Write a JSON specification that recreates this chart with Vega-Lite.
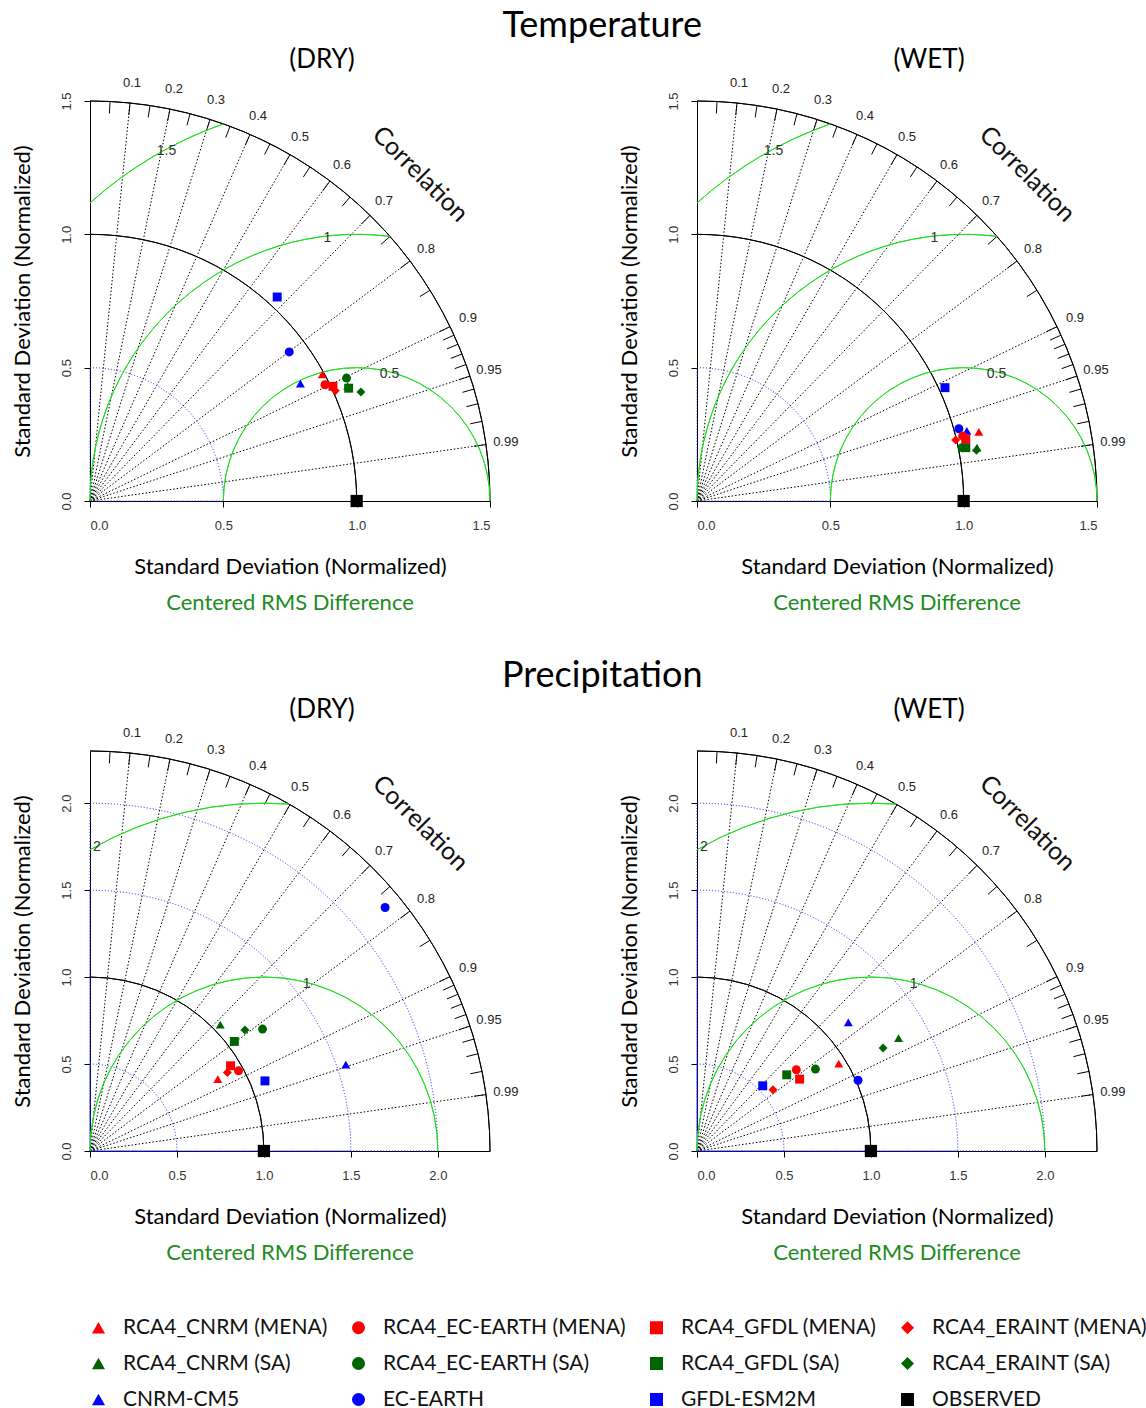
{
"$schema": "https://vega.github.io/schema/vega-lite/v6.json",
"padding": {"left": 11, "top": 8, "right": 5, "bottom": 0},
"datasets": {
"raysT": [{"x":0,"y":0,"x2":0.15,"y2":1.49249},{"x":0,"y":0,"x2":0.3,"y2":1.4697},{"x":0,"y":0,"x2":0.45,"y2":1.43091},{"x":0,"y":0,"x2":0.6,"y2":1.37478},{"x":0,"y":0,"x2":0.75,"y2":1.29904},{"x":0,"y":0,"x2":0.9,"y2":1.2},{"x":0,"y":0,"x2":1.05,"y2":1.07121},{"x":0,"y":0,"x2":1.2,"y2":0.9},{"x":0,"y":0,"x2":1.35,"y2":0.65384},{"x":0,"y":0,"x2":1.425,"y2":0.46838},{"x":0,"y":0,"x2":1.485,"y2":0.21161}],
"raysP": [{"x":0,"y":0,"x2":0.23,"y2":2.28848},{"x":0,"y":0,"x2":0.46,"y2":2.25354},{"x":0,"y":0,"x2":0.69,"y2":2.19406},{"x":0,"y":0,"x2":0.92,"y2":2.108},{"x":0,"y":0,"x2":1.15,"y2":1.99187},{"x":0,"y":0,"x2":1.38,"y2":1.84},{"x":0,"y":0,"x2":1.61,"y2":1.64252},{"x":0,"y":0,"x2":1.84,"y2":1.38},{"x":0,"y":0,"x2":2.07,"y2":1.00255},{"x":0,"y":0,"x2":2.185,"y2":0.71818},{"x":0,"y":0,"x2":2.277,"y2":0.32446}],
"ticksT": [{"x":0.07275,"y":1.45318,"x2":0.075,"y2":1.49813},{"x":0.1455,"y":1.44771,"x2":0.15,"y2":1.49249},{"x":0.21825,"y":1.43854,"x2":0.225,"y2":1.48304},{"x":0.291,"y":1.42561,"x2":0.3,"y2":1.4697},{"x":0.36375,"y":1.4088,"x2":0.375,"y2":1.45238},{"x":0.4365,"y":1.38798,"x2":0.45,"y2":1.43091},{"x":0.50925,"y":1.36297,"x2":0.525,"y2":1.40513},{"x":0.582,"y":1.33354,"x2":0.6,"y2":1.37478},{"x":0.65475,"y":1.29936,"x2":0.675,"y2":1.33955},{"x":0.7275,"y":1.26007,"x2":0.75,"y2":1.29904},{"x":0.80025,"y":1.21516,"x2":0.825,"y2":1.25274},{"x":0.873,"y":1.164,"x2":0.9,"y2":1.2},{"x":0.94575,"y":1.1057,"x2":0.975,"y2":1.1399},{"x":1.0185,"y":1.03907,"x2":1.05,"y2":1.07121},{"x":1.09125,"y":0.9624,"x2":1.125,"y2":0.99216},{"x":1.164,"y":0.873,"x2":1.2,"y2":0.9},{"x":1.23675,"y":0.76646,"x2":1.275,"y2":0.79017},{"x":1.3095,"y":0.63422,"x2":1.35,"y2":0.65384},{"x":1.32405,"y":0.60326,"x2":1.365,"y2":0.62192},{"x":1.3386,"y":0.57024,"x2":1.38,"y2":0.58788},{"x":1.35315,"y":0.5348,"x2":1.395,"y2":0.55134},{"x":1.3677,"y":0.4964,"x2":1.41,"y2":0.51176},{"x":1.38225,"y":0.45432,"x2":1.425,"y2":0.46838},{"x":1.3968,"y":0.4074,"x2":1.44,"y2":0.42},{"x":1.41135,"y":0.35371,"x2":1.455,"y2":0.36465},{"x":1.4259,"y":0.28955,"x2":1.47,"y2":0.2985},{"x":1.44045,"y":0.20526,"x2":1.485,"y2":0.21161}],
"ticksP": [{"x":0.11155,"y":2.22821,"x2":0.115,"y2":2.29713},{"x":0.2231,"y":2.21982,"x2":0.23,"y2":2.28848},{"x":0.33465,"y":2.20577,"x2":0.345,"y2":2.27399},{"x":0.4462,"y":2.18593,"x2":0.46,"y2":2.25354},{"x":0.55775,"y":2.16017,"x2":0.575,"y2":2.22698},{"x":0.6693,"y":2.12824,"x2":0.69,"y2":2.19406},{"x":0.78085,"y":2.08989,"x2":0.805,"y2":2.15453},{"x":0.8924,"y":2.04476,"x2":0.92,"y2":2.108},{"x":1.00395,"y":1.99235,"x2":1.035,"y2":2.05397},{"x":1.1155,"y":1.93211,"x2":1.15,"y2":1.99187},{"x":1.22705,"y":1.86324,"x2":1.265,"y2":1.92087},{"x":1.3386,"y":1.7848,"x2":1.38,"y2":1.84},{"x":1.45015,"y":1.6954,"x2":1.495,"y2":1.74784},{"x":1.5617,"y":1.59325,"x2":1.61,"y2":1.64252},{"x":1.67325,"y":1.47567,"x2":1.725,"y2":1.52131},{"x":1.7848,"y":1.3386,"x2":1.84,"y2":1.38},{"x":1.89635,"y":1.17525,"x2":1.955,"y2":1.21159},{"x":2.0079,"y":0.97247,"x2":2.07,"y2":1.00255},{"x":2.03021,"y":0.92499,"x2":2.093,"y2":0.9536},{"x":2.05252,"y":0.87437,"x2":2.116,"y2":0.90142},{"x":2.07483,"y":0.82003,"x2":2.139,"y2":0.84539},{"x":2.09714,"y":0.76115,"x2":2.162,"y2":0.78469},{"x":2.11945,"y":0.69663,"x2":2.185,"y2":0.71818},{"x":2.14176,"y":0.62468,"x2":2.208,"y2":0.644},{"x":2.16407,"y":0.54236,"x2":2.231,"y2":0.55913},{"x":2.18638,"y":0.44397,"x2":2.254,"y2":0.4577},{"x":2.20869,"y":0.31473,"x2":2.277,"y2":0.32446}],
"clabsT": [{"label":"0.1","x":0.1575,"y":1.56711},{"label":"0.2","x":0.315,"y":1.54319},{"label":"0.3","x":0.4725,"y":1.50246},{"label":"0.4","x":0.63,"y":1.44352},{"label":"0.5","x":0.7875,"y":1.364},{"label":"0.6","x":0.945,"y":1.26},{"label":"0.7","x":1.1025,"y":1.12477},{"label":"0.8","x":1.26,"y":0.945},{"label":"0.9","x":1.4175,"y":0.68653},{"label":"0.95","x":1.49625,"y":0.49179},{"label":"0.99","x":1.55925,"y":0.22219}],
"clabsP": [{"label":"0.1","x":0.2415,"y":2.4029},{"label":"0.2","x":0.483,"y":2.36622},{"label":"0.3","x":0.7245,"y":2.30377},{"label":"0.4","x":0.966,"y":2.2134},{"label":"0.5","x":1.2075,"y":2.09146},{"label":"0.6","x":1.449,"y":1.932},{"label":"0.7","x":1.6905,"y":1.72465},{"label":"0.8","x":1.932,"y":1.449},{"label":"0.9","x":2.1735,"y":1.05267},{"label":"0.95","x":2.29425,"y":0.75408},{"label":"0.99","x":2.39085,"y":0.34068}],
"annT": [{"label":"Correlation","x":1.238,"y":1.226}],
"annP": [{"label":"Correlation","x":1.9,"y":1.885}],
"rtT": [{"label":"Centered RMS Difference","x":0.75,"y":-0.3825}],
"rtP": [{"label":"Centered RMS Difference","x":1.15,"y":-0.5865}],
"blackT": [{"x":0,"y":0,"r":1.5,"t1":0,"t2":1.5708},{"x":0,"y":0,"r":1,"t1":0,"t2":1.5708}],
"blueT": [{"x":0,"y":0,"r":0.5,"t1":0,"t2":1.5708}],
"greenT": [{"x":1,"y":0,"r":0.5,"t1":-1.5708,"t2":1.5708},{"x":1,"y":0,"r":1,"t1":-1.5708,"t2":0.1253},{"x":1,"y":0,"r":1.5,"t1":-0.7297,"t2":-0.3398}],
"rmsT": [{"label":"0.5","x":1.123,"y":0.476},{"label":"1","x":0.89,"y":0.986},{"label":"1.5","x":0.287,"y":1.312}],
"blackP": [{"x":0,"y":0,"r":2.3,"t1":0,"t2":1.5708},{"x":0,"y":0,"r":1,"t1":0,"t2":1.5708}],
"blueP": [{"x":0,"y":0,"r":0.5,"t1":0,"t2":1.5708},{"x":0,"y":0,"r":1.5,"t1":0,"t2":1.5708},{"x":0,"y":0,"r":2,"t1":0,"t2":1.5708}],
"greenP": [{"x":1,"y":0,"r":1,"t1":-1.5708,"t2":1.5708},{"x":1,"y":0,"r":2,"t1":-0.5236,"t2":0.0726}],
"rmsP": [{"label":"1","x":1.245,"y":0.963},{"label":"2","x":0.039,"y":1.746}],
"pts": [
{"panel":"TD","series":"CNRM-CM5","x":0.789,"y":0.44},
{"panel":"TD","series":"EC-EARTH","x":0.747,"y":0.559},
{"panel":"TD","series":"GFDL-ESM2M","x":0.702,"y":0.765},
{"panel":"TD","series":"RCA4_CNRM (SA)","x":0.966,"y":0.432},
{"panel":"TD","series":"RCA4_EC-EARTH (SA)","x":0.962,"y":0.461},
{"panel":"TD","series":"RCA4_GFDL (SA)","x":0.97,"y":0.423},
{"panel":"TD","series":"RCA4_ERAINT (SA)","x":1.016,"y":0.409},
{"panel":"TD","series":"RCA4_CNRM (MENA)","x":0.871,"y":0.475},
{"panel":"TD","series":"RCA4_EC-EARTH (MENA)","x":0.881,"y":0.436},
{"panel":"TD","series":"RCA4_GFDL (MENA)","x":0.911,"y":0.43},
{"panel":"TD","series":"RCA4_ERAINT (MENA)","x":0.92,"y":0.413},
{"panel":"TD","series":"OBSERVED","x":1.0,"y":0},
{"panel":"TW","series":"CNRM-CM5","x":1.012,"y":0.263},
{"panel":"TW","series":"EC-EARTH","x":0.982,"y":0.271},
{"panel":"TW","series":"GFDL-ESM2M","x":0.93,"y":0.425},
{"panel":"TW","series":"RCA4_CNRM (SA)","x":1.05,"y":0.2},
{"panel":"TW","series":"RCA4_EC-EARTH (SA)","x":0.994,"y":0.2},
{"panel":"TW","series":"RCA4_GFDL (SA)","x":1.008,"y":0.2},
{"panel":"TW","series":"RCA4_ERAINT (SA)","x":1.048,"y":0.19},
{"panel":"TW","series":"RCA4_CNRM (MENA)","x":1.057,"y":0.259},
{"panel":"TW","series":"RCA4_EC-EARTH (MENA)","x":0.996,"y":0.244},
{"panel":"TW","series":"RCA4_GFDL (MENA)","x":1.008,"y":0.232},
{"panel":"TW","series":"RCA4_ERAINT (MENA)","x":0.97,"y":0.229},
{"panel":"TW","series":"OBSERVED","x":1.0,"y":0},
{"panel":"PD","series":"CNRM-CM5","x":1.471,"y":0.496},
{"panel":"PD","series":"EC-EARTH","x":1.697,"y":1.4},
{"panel":"PD","series":"GFDL-ESM2M","x":1.006,"y":0.403},
{"panel":"PD","series":"RCA4_CNRM (SA)","x":0.749,"y":0.726},
{"panel":"PD","series":"RCA4_EC-EARTH (SA)","x":0.992,"y":0.701},
{"panel":"PD","series":"RCA4_GFDL (SA)","x":0.83,"y":0.63},
{"panel":"PD","series":"RCA4_ERAINT (SA)","x":0.891,"y":0.696},
{"panel":"PD","series":"RCA4_CNRM (MENA)","x":0.735,"y":0.413},
{"panel":"PD","series":"RCA4_EC-EARTH (MENA)","x":0.854,"y":0.461},
{"panel":"PD","series":"RCA4_GFDL (MENA)","x":0.808,"y":0.49},
{"panel":"PD","series":"RCA4_ERAINT (MENA)","x":0.79,"y":0.451},
{"panel":"PD","series":"OBSERVED","x":1.0,"y":0},
{"panel":"PW","series":"CNRM-CM5","x":0.87,"y":0.74},
{"panel":"PW","series":"EC-EARTH","x":0.926,"y":0.407},
{"panel":"PW","series":"GFDL-ESM2M","x":0.378,"y":0.375},
{"panel":"PW","series":"RCA4_CNRM (SA)","x":1.159,"y":0.649},
{"panel":"PW","series":"RCA4_EC-EARTH (SA)","x":0.681,"y":0.471},
{"panel":"PW","series":"RCA4_GFDL (SA)","x":0.516,"y":0.438},
{"panel":"PW","series":"RCA4_ERAINT (SA)","x":1.07,"y":0.592},
{"panel":"PW","series":"RCA4_CNRM (MENA)","x":0.815,"y":0.503},
{"panel":"PW","series":"RCA4_EC-EARTH (MENA)","x":0.571,"y":0.467},
{"panel":"PW","series":"RCA4_GFDL (MENA)","x":0.59,"y":0.413},
{"panel":"PW","series":"RCA4_ERAINT (MENA)","x":0.437,"y":0.352},
{"panel":"PW","series":"OBSERVED","x":1.0,"y":0}
]
},
"vconcat": [
{
"title": {"text": "Temperature", "fontSize": 36, "anchor": "middle", "offset": 2, "dx": 34},
"spacing": 99,
"hconcat": [
{
"width": 400, "height": 400,
"title": {"text": "(DRY)", "frame": "group", "dx": 32, "offset": 4},
"encoding": {
"x": {"field": "x", "type": "quantitative", "stack": null, "scale": {"domain": [0, 1.5], "nice": false, "zero": true}, "axis": {"values": [0, 0.5, 1, 1.5], "format": ".1f", "title": "Standard Deviation (Normalized)"}},
"y": {"field": "y", "type": "quantitative", "stack": null, "scale": {"domain": [0, 1.5], "nice": false, "zero": true}, "axis": {"values": [0, 0.5, 1, 1.5], "format": ".1f", "title": "Standard Deviation (Normalized)"}}
},
"layer": [
{"data": {"name": "raysT"}, "mark": {"type": "rule", "color": "#000000", "strokeWidth": 1, "strokeDash": [1.5, 2]}, "encoding": {"x2": {"field": "x2"}, "y2": {"field": "y2"}}},
{"data": {"name": "ticksT"}, "mark": {"type": "rule", "color": "#000000", "strokeWidth": 1}, "encoding": {"x2": {"field": "x2"}, "y2": {"field": "y2"}}},
{"data": {"name": "blueT"}, "mark": {"type": "arc", "filled": false, "color": "#2020ff", "strokeWidth": 1, "strokeDash": [1, 2]}, "encoding": {"radius": {"field": "r", "type": "quantitative", "stack": null, "scale": {"type": "linear", "domain": [0, 1.5], "range": [0, 400], "zero": true, "nice": false}}, "theta": {"field": "t1", "type": "quantitative", "stack": null, "scale": {"type": "linear", "domain": [-3.1416, 3.1416], "range": [-3.1416, 3.1416], "zero": false, "nice": false}}, "theta2": {"field": "t2"}}},
{"data": {"name": "blackT"}, "mark": {"type": "arc", "filled": false, "color": "#000000", "strokeWidth": 1}, "encoding": {"radius": {"field": "r", "type": "quantitative", "stack": null, "scale": {"type": "linear", "domain": [0, 1.5], "range": [0, 400], "zero": true, "nice": false}}, "radius2": {"field": "r"}, "theta": {"field": "t1", "type": "quantitative", "stack": null, "scale": {"type": "linear", "domain": [-3.1416, 3.1416], "range": [-3.1416, 3.1416], "zero": false, "nice": false}}, "theta2": {"field": "t2"}}},
{"data": {"name": "greenT"}, "mark": {"type": "arc", "filled": false, "color": "#22dd22", "strokeWidth": 1}, "encoding": {"radius": {"field": "r", "type": "quantitative", "stack": null, "scale": {"type": "linear", "domain": [0, 1.5], "range": [0, 400], "zero": true, "nice": false}}, "radius2": {"field": "r"}, "theta": {"field": "t1", "type": "quantitative", "stack": null, "scale": {"type": "linear", "domain": [-3.1416, 3.1416], "range": [-3.1416, 3.1416], "zero": false, "nice": false}}, "theta2": {"field": "t2"}}},
{"data": {"name": "rmsT"}, "mark": {"type": "text", "font": "Liberation Sans", "fontSize": 14, "color": "#333333"}, "encoding": {"text": {"field": "label", "type": "nominal"}}},
{"data": {"name": "clabsT"}, "mark": {"type": "text", "font": "Liberation Sans", "fontSize": 13, "color": "#222222"}, "encoding": {"text": {"field": "label", "type": "nominal"}}},
{"data": {"name": "annT"}, "mark": {"type": "text", "font": "Lato", "fontSize": 25, "angle": 45, "color": "#111111"}, "encoding": {"text": {"field": "label", "type": "nominal"}}},
{"data": {"name": "rtT"}, "mark": {"type": "text", "font": "Lato", "fontSize": 22, "color": "#228b22"}, "encoding": {"text": {"field": "label", "type": "nominal"}}},
{"data": {"name": "pts"}, "transform": [{"filter": "datum.panel === 'TD'"}], "mark": {"type": "point", "filled": true, "opacity": 1},
"encoding": {
"color": {"field": "series", "type": "nominal", "scale": {"domain": ["RCA4_CNRM (MENA)","RCA4_CNRM (SA)","CNRM-CM5","RCA4_EC-EARTH (MENA)","RCA4_EC-EARTH (SA)","EC-EARTH","RCA4_GFDL (MENA)","RCA4_GFDL (SA)","GFDL-ESM2M","RCA4_ERAINT (MENA)","RCA4_ERAINT (SA)","OBSERVED"], "range": ["#ff0000","#006400","#0000ff","#ff0000","#006400","#0000ff","#ff0000","#006400","#0000ff","#ff0000","#006400","#000000"]}, "legend": {"title": null, "orient": "none", "legendX": -2, "legendY": 1216, "columns": 4}},
"shape": {"field": "series", "type": "nominal", "scale": {"domain": ["RCA4_CNRM (MENA)","RCA4_CNRM (SA)","CNRM-CM5","RCA4_EC-EARTH (MENA)","RCA4_EC-EARTH (SA)","EC-EARTH","RCA4_GFDL (MENA)","RCA4_GFDL (SA)","GFDL-ESM2M","RCA4_ERAINT (MENA)","RCA4_ERAINT (SA)","OBSERVED"], "range": ["triangle-up","triangle-up","triangle-up","circle","circle","circle","square","square","square","diamond","diamond","square"]}, "legend": {"title": null, "orient": "none", "legendX": -2, "legendY": 1216, "columns": 4}},
"size": {"condition": {"test": "datum.series === 'OBSERVED'", "value": 150}, "value": 80}
}}
]
},
{
"width": 400, "height": 400,
"title": {"text": "(WET)", "frame": "group", "dx": 32, "offset": 4},
"encoding": {
"x": {"field": "x", "type": "quantitative", "stack": null, "scale": {"domain": [0, 1.5], "nice": false, "zero": true}, "axis": {"values": [0, 0.5, 1, 1.5], "format": ".1f", "title": "Standard Deviation (Normalized)"}},
"y": {"field": "y", "type": "quantitative", "stack": null, "scale": {"domain": [0, 1.5], "nice": false, "zero": true}, "axis": {"values": [0, 0.5, 1, 1.5], "format": ".1f", "title": "Standard Deviation (Normalized)"}}
},
"layer": [
{"data": {"name": "raysT"}, "mark": {"type": "rule", "color": "#000000", "strokeWidth": 1, "strokeDash": [1.5, 2]}, "encoding": {"x2": {"field": "x2"}, "y2": {"field": "y2"}}},
{"data": {"name": "ticksT"}, "mark": {"type": "rule", "color": "#000000", "strokeWidth": 1}, "encoding": {"x2": {"field": "x2"}, "y2": {"field": "y2"}}},
{"data": {"name": "blueT"}, "mark": {"type": "arc", "filled": false, "color": "#2020ff", "strokeWidth": 1, "strokeDash": [1, 2]}, "encoding": {"radius": {"field": "r", "type": "quantitative", "stack": null, "scale": {"type": "linear", "domain": [0, 1.5], "range": [0, 400], "zero": true, "nice": false}}, "theta": {"field": "t1", "type": "quantitative", "stack": null, "scale": {"type": "linear", "domain": [-3.1416, 3.1416], "range": [-3.1416, 3.1416], "zero": false, "nice": false}}, "theta2": {"field": "t2"}}},
{"data": {"name": "blackT"}, "mark": {"type": "arc", "filled": false, "color": "#000000", "strokeWidth": 1}, "encoding": {"radius": {"field": "r", "type": "quantitative", "stack": null, "scale": {"type": "linear", "domain": [0, 1.5], "range": [0, 400], "zero": true, "nice": false}}, "radius2": {"field": "r"}, "theta": {"field": "t1", "type": "quantitative", "stack": null, "scale": {"type": "linear", "domain": [-3.1416, 3.1416], "range": [-3.1416, 3.1416], "zero": false, "nice": false}}, "theta2": {"field": "t2"}}},
{"data": {"name": "greenT"}, "mark": {"type": "arc", "filled": false, "color": "#22dd22", "strokeWidth": 1}, "encoding": {"radius": {"field": "r", "type": "quantitative", "stack": null, "scale": {"type": "linear", "domain": [0, 1.5], "range": [0, 400], "zero": true, "nice": false}}, "radius2": {"field": "r"}, "theta": {"field": "t1", "type": "quantitative", "stack": null, "scale": {"type": "linear", "domain": [-3.1416, 3.1416], "range": [-3.1416, 3.1416], "zero": false, "nice": false}}, "theta2": {"field": "t2"}}},
{"data": {"name": "rmsT"}, "mark": {"type": "text", "font": "Liberation Sans", "fontSize": 14, "color": "#333333"}, "encoding": {"text": {"field": "label", "type": "nominal"}}},
{"data": {"name": "clabsT"}, "mark": {"type": "text", "font": "Liberation Sans", "fontSize": 13, "color": "#222222"}, "encoding": {"text": {"field": "label", "type": "nominal"}}},
{"data": {"name": "annT"}, "mark": {"type": "text", "font": "Lato", "fontSize": 25, "angle": 45, "color": "#111111"}, "encoding": {"text": {"field": "label", "type": "nominal"}}},
{"data": {"name": "rtT"}, "mark": {"type": "text", "font": "Lato", "fontSize": 22, "color": "#228b22"}, "encoding": {"text": {"field": "label", "type": "nominal"}}},
{"data": {"name": "pts"}, "transform": [{"filter": "datum.panel === 'TW'"}], "mark": {"type": "point", "filled": true, "opacity": 1},
"encoding": {
"color": {"field": "series", "type": "nominal", "scale": {"domain": ["RCA4_CNRM (MENA)","RCA4_CNRM (SA)","CNRM-CM5","RCA4_EC-EARTH (MENA)","RCA4_EC-EARTH (SA)","EC-EARTH","RCA4_GFDL (MENA)","RCA4_GFDL (SA)","GFDL-ESM2M","RCA4_ERAINT (MENA)","RCA4_ERAINT (SA)","OBSERVED"], "range": ["#ff0000","#006400","#0000ff","#ff0000","#006400","#0000ff","#ff0000","#006400","#0000ff","#ff0000","#006400","#000000"]}, "legend": {"title": null, "orient": "none", "legendX": -2, "legendY": 1216, "columns": 4}},
"shape": {"field": "series", "type": "nominal", "scale": {"domain": ["RCA4_CNRM (MENA)","RCA4_CNRM (SA)","CNRM-CM5","RCA4_EC-EARTH (MENA)","RCA4_EC-EARTH (SA)","EC-EARTH","RCA4_GFDL (MENA)","RCA4_GFDL (SA)","GFDL-ESM2M","RCA4_ERAINT (MENA)","RCA4_ERAINT (SA)","OBSERVED"], "range": ["triangle-up","triangle-up","triangle-up","circle","circle","circle","square","square","square","diamond","diamond","square"]}, "legend": {"title": null, "orient": "none", "legendX": -2, "legendY": 1216, "columns": 4}},
"size": {"condition": {"test": "datum.series === 'OBSERVED'", "value": 150}, "value": 80}
}}
]
}
]
},
{
"title": {"text": "Precipitation", "fontSize": 36, "anchor": "middle", "offset": 2, "dx": 34},
"spacing": 99,
"hconcat": [
{
"width": 400, "height": 400,
"title": {"text": "(DRY)", "frame": "group", "dx": 32, "offset": 4},
"encoding": {
"x": {"field": "x", "type": "quantitative", "stack": null, "scale": {"domain": [0, 2.3], "nice": false, "zero": true}, "axis": {"values": [0, 0.5, 1, 1.5, 2], "format": ".1f", "title": "Standard Deviation (Normalized)"}},
"y": {"field": "y", "type": "quantitative", "stack": null, "scale": {"domain": [0, 2.3], "nice": false, "zero": true}, "axis": {"values": [0, 0.5, 1, 1.5, 2], "format": ".1f", "title": "Standard Deviation (Normalized)"}}
},
"layer": [
{"data": {"name": "raysP"}, "mark": {"type": "rule", "color": "#000000", "strokeWidth": 1, "strokeDash": [1.5, 2]}, "encoding": {"x2": {"field": "x2"}, "y2": {"field": "y2"}}},
{"data": {"name": "ticksP"}, "mark": {"type": "rule", "color": "#000000", "strokeWidth": 1}, "encoding": {"x2": {"field": "x2"}, "y2": {"field": "y2"}}},
{"data": {"name": "blueP"}, "mark": {"type": "arc", "filled": false, "color": "#2020ff", "strokeWidth": 1, "strokeDash": [1, 2]}, "encoding": {"radius": {"field": "r", "type": "quantitative", "stack": null, "scale": {"type": "linear", "domain": [0, 2.3], "range": [0, 400], "zero": true, "nice": false}}, "theta": {"field": "t1", "type": "quantitative", "stack": null, "scale": {"type": "linear", "domain": [-3.1416, 3.1416], "range": [-3.1416, 3.1416], "zero": false, "nice": false}}, "theta2": {"field": "t2"}}},
{"data": {"name": "blackP"}, "mark": {"type": "arc", "filled": false, "color": "#000000", "strokeWidth": 1}, "encoding": {"radius": {"field": "r", "type": "quantitative", "stack": null, "scale": {"type": "linear", "domain": [0, 2.3], "range": [0, 400], "zero": true, "nice": false}}, "radius2": {"field": "r"}, "theta": {"field": "t1", "type": "quantitative", "stack": null, "scale": {"type": "linear", "domain": [-3.1416, 3.1416], "range": [-3.1416, 3.1416], "zero": false, "nice": false}}, "theta2": {"field": "t2"}}},
{"data": {"name": "greenP"}, "mark": {"type": "arc", "filled": false, "color": "#22dd22", "strokeWidth": 1}, "encoding": {"radius": {"field": "r", "type": "quantitative", "stack": null, "scale": {"type": "linear", "domain": [0, 2.3], "range": [0, 400], "zero": true, "nice": false}}, "radius2": {"field": "r"}, "theta": {"field": "t1", "type": "quantitative", "stack": null, "scale": {"type": "linear", "domain": [-3.1416, 3.1416], "range": [-3.1416, 3.1416], "zero": false, "nice": false}}, "theta2": {"field": "t2"}}},
{"data": {"name": "rmsP"}, "mark": {"type": "text", "font": "Liberation Sans", "fontSize": 14, "color": "#333333"}, "encoding": {"text": {"field": "label", "type": "nominal"}}},
{"data": {"name": "clabsP"}, "mark": {"type": "text", "font": "Liberation Sans", "fontSize": 13, "color": "#222222"}, "encoding": {"text": {"field": "label", "type": "nominal"}}},
{"data": {"name": "annP"}, "mark": {"type": "text", "font": "Lato", "fontSize": 25, "angle": 45, "color": "#111111"}, "encoding": {"text": {"field": "label", "type": "nominal"}}},
{"data": {"name": "rtP"}, "mark": {"type": "text", "font": "Lato", "fontSize": 22, "color": "#228b22"}, "encoding": {"text": {"field": "label", "type": "nominal"}}},
{"data": {"name": "pts"}, "transform": [{"filter": "datum.panel === 'PD'"}], "mark": {"type": "point", "filled": true, "opacity": 1},
"encoding": {
"color": {"field": "series", "type": "nominal", "scale": {"domain": ["RCA4_CNRM (MENA)","RCA4_CNRM (SA)","CNRM-CM5","RCA4_EC-EARTH (MENA)","RCA4_EC-EARTH (SA)","EC-EARTH","RCA4_GFDL (MENA)","RCA4_GFDL (SA)","GFDL-ESM2M","RCA4_ERAINT (MENA)","RCA4_ERAINT (SA)","OBSERVED"], "range": ["#ff0000","#006400","#0000ff","#ff0000","#006400","#0000ff","#ff0000","#006400","#0000ff","#ff0000","#006400","#000000"]}, "legend": {"title": null, "orient": "none", "legendX": -2, "legendY": 1216, "columns": 4}},
"shape": {"field": "series", "type": "nominal", "scale": {"domain": ["RCA4_CNRM (MENA)","RCA4_CNRM (SA)","CNRM-CM5","RCA4_EC-EARTH (MENA)","RCA4_EC-EARTH (SA)","EC-EARTH","RCA4_GFDL (MENA)","RCA4_GFDL (SA)","GFDL-ESM2M","RCA4_ERAINT (MENA)","RCA4_ERAINT (SA)","OBSERVED"], "range": ["triangle-up","triangle-up","triangle-up","circle","circle","circle","square","square","square","diamond","diamond","square"]}, "legend": {"title": null, "orient": "none", "legendX": -2, "legendY": 1216, "columns": 4}},
"size": {"condition": {"test": "datum.series === 'OBSERVED'", "value": 150}, "value": 80}
}}
]
},
{
"width": 400, "height": 400,
"title": {"text": "(WET)", "frame": "group", "dx": 32, "offset": 4},
"encoding": {
"x": {"field": "x", "type": "quantitative", "stack": null, "scale": {"domain": [0, 2.3], "nice": false, "zero": true}, "axis": {"values": [0, 0.5, 1, 1.5, 2], "format": ".1f", "title": "Standard Deviation (Normalized)"}},
"y": {"field": "y", "type": "quantitative", "stack": null, "scale": {"domain": [0, 2.3], "nice": false, "zero": true}, "axis": {"values": [0, 0.5, 1, 1.5, 2], "format": ".1f", "title": "Standard Deviation (Normalized)"}}
},
"layer": [
{"data": {"name": "raysP"}, "mark": {"type": "rule", "color": "#000000", "strokeWidth": 1, "strokeDash": [1.5, 2]}, "encoding": {"x2": {"field": "x2"}, "y2": {"field": "y2"}}},
{"data": {"name": "ticksP"}, "mark": {"type": "rule", "color": "#000000", "strokeWidth": 1}, "encoding": {"x2": {"field": "x2"}, "y2": {"field": "y2"}}},
{"data": {"name": "blueP"}, "mark": {"type": "arc", "filled": false, "color": "#2020ff", "strokeWidth": 1, "strokeDash": [1, 2]}, "encoding": {"radius": {"field": "r", "type": "quantitative", "stack": null, "scale": {"type": "linear", "domain": [0, 2.3], "range": [0, 400], "zero": true, "nice": false}}, "theta": {"field": "t1", "type": "quantitative", "stack": null, "scale": {"type": "linear", "domain": [-3.1416, 3.1416], "range": [-3.1416, 3.1416], "zero": false, "nice": false}}, "theta2": {"field": "t2"}}},
{"data": {"name": "blackP"}, "mark": {"type": "arc", "filled": false, "color": "#000000", "strokeWidth": 1}, "encoding": {"radius": {"field": "r", "type": "quantitative", "stack": null, "scale": {"type": "linear", "domain": [0, 2.3], "range": [0, 400], "zero": true, "nice": false}}, "radius2": {"field": "r"}, "theta": {"field": "t1", "type": "quantitative", "stack": null, "scale": {"type": "linear", "domain": [-3.1416, 3.1416], "range": [-3.1416, 3.1416], "zero": false, "nice": false}}, "theta2": {"field": "t2"}}},
{"data": {"name": "greenP"}, "mark": {"type": "arc", "filled": false, "color": "#22dd22", "strokeWidth": 1}, "encoding": {"radius": {"field": "r", "type": "quantitative", "stack": null, "scale": {"type": "linear", "domain": [0, 2.3], "range": [0, 400], "zero": true, "nice": false}}, "radius2": {"field": "r"}, "theta": {"field": "t1", "type": "quantitative", "stack": null, "scale": {"type": "linear", "domain": [-3.1416, 3.1416], "range": [-3.1416, 3.1416], "zero": false, "nice": false}}, "theta2": {"field": "t2"}}},
{"data": {"name": "rmsP"}, "mark": {"type": "text", "font": "Liberation Sans", "fontSize": 14, "color": "#333333"}, "encoding": {"text": {"field": "label", "type": "nominal"}}},
{"data": {"name": "clabsP"}, "mark": {"type": "text", "font": "Liberation Sans", "fontSize": 13, "color": "#222222"}, "encoding": {"text": {"field": "label", "type": "nominal"}}},
{"data": {"name": "annP"}, "mark": {"type": "text", "font": "Lato", "fontSize": 25, "angle": 45, "color": "#111111"}, "encoding": {"text": {"field": "label", "type": "nominal"}}},
{"data": {"name": "rtP"}, "mark": {"type": "text", "font": "Lato", "fontSize": 22, "color": "#228b22"}, "encoding": {"text": {"field": "label", "type": "nominal"}}},
{"data": {"name": "pts"}, "transform": [{"filter": "datum.panel === 'PW'"}], "mark": {"type": "point", "filled": true, "opacity": 1},
"encoding": {
"color": {"field": "series", "type": "nominal", "scale": {"domain": ["RCA4_CNRM (MENA)","RCA4_CNRM (SA)","CNRM-CM5","RCA4_EC-EARTH (MENA)","RCA4_EC-EARTH (SA)","EC-EARTH","RCA4_GFDL (MENA)","RCA4_GFDL (SA)","GFDL-ESM2M","RCA4_ERAINT (MENA)","RCA4_ERAINT (SA)","OBSERVED"], "range": ["#ff0000","#006400","#0000ff","#ff0000","#006400","#0000ff","#ff0000","#006400","#0000ff","#ff0000","#006400","#000000"]}, "legend": {"title": null, "orient": "none", "legendX": -2, "legendY": 1216, "columns": 4}},
"shape": {"field": "series", "type": "nominal", "scale": {"domain": ["RCA4_CNRM (MENA)","RCA4_CNRM (SA)","CNRM-CM5","RCA4_EC-EARTH (MENA)","RCA4_EC-EARTH (SA)","EC-EARTH","RCA4_GFDL (MENA)","RCA4_GFDL (SA)","GFDL-ESM2M","RCA4_ERAINT (MENA)","RCA4_ERAINT (SA)","OBSERVED"], "range": ["triangle-up","triangle-up","triangle-up","circle","circle","circle","square","square","square","diamond","diamond","square"]}, "legend": {"title": null, "orient": "none", "legendX": -2, "legendY": 1216, "columns": 4}},
"size": {"condition": {"test": "datum.series === 'OBSERVED'", "value": 150}, "value": 80}
}}
]
}
]
}
],
"spacing": 44,
"resolve": {"scale": {"radius": "independent"}},
"config": {
"view": {"stroke": null},
"font": "Lato",
"title": {"font": "Lato", "fontSize": 26, "fontWeight": "normal", "color": "#000000"},
"axis": {"grid": false, "zindex": 1, "domainColor": "#000000", "tickColor": "#000000", "tickSize": 6, "labelFont": "Liberation Sans", "labelFontSize": 13, "labelColor": "#333333", "titleFont": "Lato", "titleFontSize": 22, "titleFontWeight": "normal", "titleColor": "#000000"},
"axisX": {"labelPadding": 12, "titlePadding": 24},
"axisY": {"labelAngle": -90, "labelAlign": "center", "labelBaseline": "bottom", "labelPadding": 11, "titlePadding": 26},
"legend": {"labelFont": "Lato", "labelFontSize": 21, "labelColor": "#111111", "symbolSize": 170, "rowPadding": 14, "columnPadding": 20, "labelOffset": 14, "labelLimit": 400, "symbolStrokeWidth": 0}
}
}
